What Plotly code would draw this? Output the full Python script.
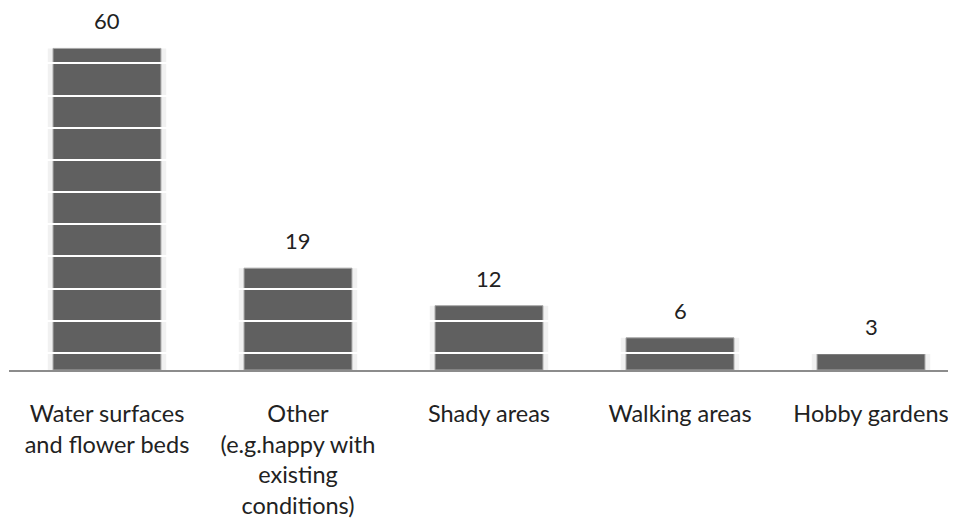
import plotly.graph_objects as go

categories = [
    "Water surfaces<br>and flower beds",
    "Other<br>(e.g.happy with<br>existing<br>conditions)",
    "Shady areas",
    "Walking areas",
    "Hobby gardens",
]
values = [60, 19, 12, 6, 3]
labels = ["60", "19", "12", "6", "3"]

FONT = "Lato, Calibri, Carlito, sans-serif"
Y_MAX = 65.3

fig = go.Figure()

# soft shadow behind bars
fig.add_trace(go.Bar(
    x=categories, y=values, width=0.62,
    marker=dict(color="#f1f1f1", line=dict(width=0)),
    hoverinfo="skip", showlegend=False,
))
fig.add_trace(go.Bar(
    x=categories, y=values, width=0.565,
    marker=dict(color="#606060", line=dict(color="#a8a8a8", width=1)),
    showlegend=False,
))
# empty overlay subplot carrying the white gridlines above the bars
fig.add_trace(go.Scatter(x=[], y=[], xaxis="x2", yaxis="y2", showlegend=False))

for c, v, t in zip(categories, values, labels):
    fig.add_annotation(
        x=c, y=v, text=t, showarrow=False, yanchor="bottom", yshift=12,
        font=dict(family=FONT, size=22, color="#222222"),
    )

fig.update_layout(
    width=948, height=521,
    margin=dict(l=1, r=0, t=12, b=159, autoexpand=False),
    plot_bgcolor="rgba(0,0,0,0)", paper_bgcolor="white",
    barmode="overlay",
    font=dict(family=FONT, size=23.5, color="#222222"),
    xaxis=dict(
        range=[-0.513, 4.445], showgrid=False, zeroline=False,
        showline=True, linecolor="#8c8c8c", linewidth=2,
        ticks="outside", ticklen=22, tickcolor="rgba(0,0,0,0)",
        tickfont=dict(family=FONT, size=23.5, color="#222222"),
        domain=[0, 1], automargin=False,
    ),
    yaxis=dict(
        range=[0, Y_MAX], showgrid=False, zeroline=False,
        showticklabels=False, showline=False, domain=[0, 1], automargin=False,
    ),
    xaxis2=dict(
        range=[-0.513, 4.445], visible=False, anchor="y2", domain=[0, 1],
    ),
    yaxis2=dict(
        range=[0, Y_MAX], anchor="x2", domain=[0, 1],
        showgrid=True, gridcolor="white", gridwidth=1.5,
        tick0=3.2, dtick=6, showticklabels=False, zeroline=False, showline=False,
    ),
)

fig.write_html("out.html")
